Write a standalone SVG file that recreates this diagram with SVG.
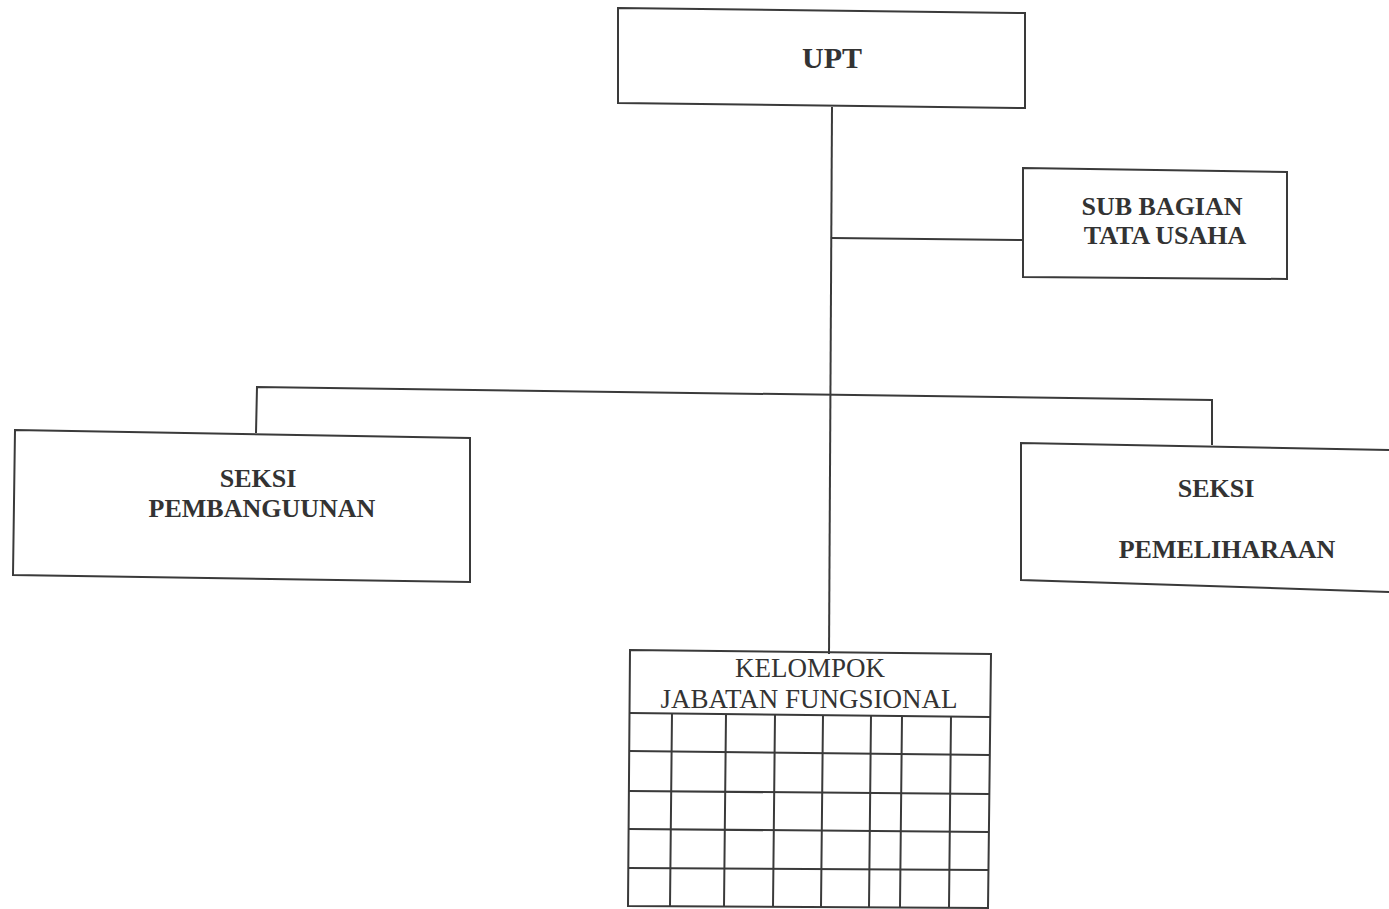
<svg xmlns="http://www.w3.org/2000/svg" width="1389" height="909" viewBox="0 0 1389 909">
<style>
.box{fill:none;stroke:#3a3a3a;stroke-width:2}
.ln{fill:none;stroke:#3a3a3a;stroke-width:2}
.b{font-family:"Liberation Serif","Times New Roman",serif;font-weight:bold;fill:#333;text-anchor:middle}
.r{font-family:"Liberation Serif","Times New Roman",serif;fill:#333;text-anchor:middle;font-size:27px}
</style>
<rect x="0" y="0" width="1389" height="909" fill="#fff"/>
<g id="connectors">
<path class="ln" d="M832,107 L829,654"/>
<path class="ln" d="M832,238 L1023,240"/>
<path class="ln" d="M256,433 L257,387 L1212,400 L1212,445"/>
</g>
<g id="upt">
<path class="box" d="M618,8 L1025,13 L1025,108 L618,103 Z"/>
<text class="b" x="832" y="68" font-size="30">UPT</text>
</g>
<g id="sub-bagian">
<path class="box" d="M1023,168 L1287,172 L1287,279 L1023,277 Z"/>
<text class="b" x="1162" y="215" font-size="26">SUB BAGIAN</text>
<text class="b" x="1165" y="244" font-size="26">TATA USAHA</text>
</g>
<g id="seksi-pembangunan">
<path class="box" d="M15,430 L470,438 L470,582 L13,575 Z"/>
<text class="b" x="258" y="487" font-size="26">SEKSI</text>
<text class="b" x="262" y="517" font-size="26">PEMBANGUUNAN</text>
</g>
<g id="seksi-pemeliharaan">
<path class="box" d="M1392,450 L1021,443 L1021,580 L1392,592"/>
<text class="b" x="1216" y="497" font-size="26">SEKSI</text>
<text class="b" x="1227" y="558" font-size="26">PEMELIHARAAN</text>
</g>
<g id="kelompok-jabatan-fungsional">
<path class="box" d="M630,650 L991,654 L988,908 L628,906 Z"/>
<path class="ln" d="M630,713 L990,717 M629,751 L990,755 M629,791 L989,794 M629,829 L989,832 M628,868 L988,870"/>
<path class="ln" d="M672,713 L670,906 M726,714 L724,907 M775,714 L773,907 M823,715 L821,907 M871,715 L869,907 M902,716 L900,907 M951,716 L949,908"/>
<text class="r" x="810" y="677">KELOMPOK</text>
<text class="r" x="809" y="708">JABATAN FUNGSIONAL</text>
</g>
</svg>
